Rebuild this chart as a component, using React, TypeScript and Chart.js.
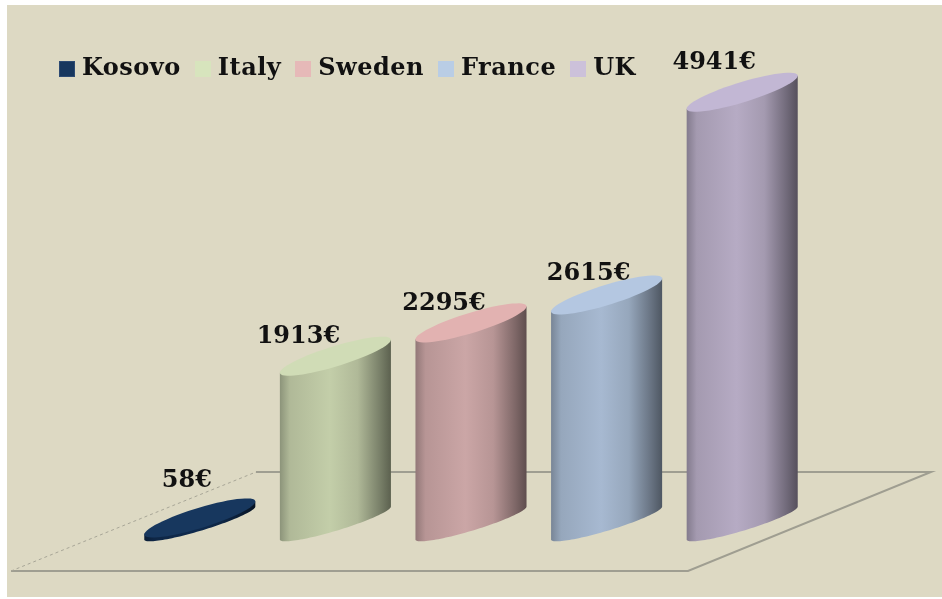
import React, { useEffect, useRef } from "react";
import { Chart, registerables } from "chart.js";

Chart.register(...registerables);

const countries = ["Kosovo", "Italy", "Sweden", "France", "UK"];
const incomes = [58, 1913, 2295, 2615, 4941];
const legendColors = ["#17375e", "#d7e4bd", "#e6b9b8", "#b9cde5", "#ccc1da"];
const bodyColors = ["#0f2a4d", "#c3cea9", "#cba6a6", "#a7b9d1", "#b6abc4"];
const capColors = ["#17375e", "#d0dcb6", "#e2b2b1", "#b4c7e1", "#c2b7d4"];

const LABEL_FONT = "bold 24px 'DejaVu Serif'";
const LEGEND_SPACING = "0.5px";
const labelShift = [[-13, -37], [-37, -19], [-27, -19], [-18, -21], [-28, -29]];

const rgb = (hex: string) => [1, 3, 5].map((i) => parseInt(hex.slice(i, i + 2), 16));
const shade = (hex: string, f: number) => `rgb(${rgb(hex).map((v) => Math.round(v * f)).join(",")})`;

const swatch = (color: string, border: string) => {
  const c = document.createElement("canvas");
  c.width = 16;
  c.height = 16;
  const x = c.getContext("2d")!;
  x.fillStyle = border;
  x.fillRect(0, 0, 16, 16);
  x.fillStyle = color;
  x.fillRect(1, 1, 14, 14);
  return c;
};

const ellipsePoint = (cx: number, cy: number, rx: number, rise: number, b: number, t: number) => [
  cx + rx * Math.cos(t),
  cy - rise * Math.cos(t) - b * Math.sin(t),
];

const tracePart = (ctx: any, cx: number, cy: number, rx: number, rise: number, b: number, from: number, to: number, move: boolean) => {
  const steps = 60;
  for (let i = 0; i <= steps; i++) {
    const [px, py] = ellipsePoint(cx, cy, rx, rise, b, from + ((to - from) * i) / steps);
    if (i === 0 && move) ctx.moveTo(px, py);
    else ctx.lineTo(px, py);
  }
};

const RISE = 16.5;
const TOP_B = 10.5;
const BASE_B = 8;

const scene = {
  id: "scene",
  beforeLayout(chart: any) {
    chart.ctx.letterSpacing = LEGEND_SPACING;
  },
  afterLayout(chart: any) {
    const l = chart.legend;
    l.left = 45;
    l.right = 942;
    l.top = 38;
    l.bottom = 106;
  },
  beforeDraw(chart: any) {
    const { ctx, width, height } = chart;
    ctx.letterSpacing = LEGEND_SPACING;
    ctx.fillStyle = "#ffffff";
    ctx.fillRect(0, 0, width, height);
    ctx.fillStyle = "#ddd9c3";
    ctx.fillRect(7, 5, width - 7, height - 7);
  },
  beforeDatasetsDraw(chart: any) {
    const { ctx, chartArea } = chart;
    const base = chartArea.bottom;
    const backY = base - 51;
    const frontY = base + 48;
    ctx.save();
    ctx.strokeStyle = "#9f9e91";
    ctx.lineWidth = 2;
    ctx.beginPath();
    ctx.moveTo(256, backY);
    ctx.lineTo(931, backY);
    ctx.lineTo(688, frontY);
    ctx.lineTo(11, frontY);
    ctx.stroke();
    ctx.strokeStyle = "#a8a697";
    ctx.lineWidth = 1;
    ctx.setLineDash([3, 3]);
    ctx.beginPath();
    ctx.moveTo(11, frontY);
    ctx.lineTo(256, backY);
    ctx.stroke();
    ctx.restore();
  },
  beforeDatasetDraw(chart: any, args: any) {
    const { ctx } = chart;
    const i = args.index;
    const bar = chart.getDatasetMeta(i).data[0];
    const cx = bar.x;
    const rx = bar.width / 2;
    const yTop = bar.y;
    const yBase = bar.base;
    const col = bodyColors[i];
    const g = ctx.createLinearGradient(cx - rx, 0, cx + rx, 0);
    [[0, 0.72], [0.09, 0.9], [0.45, 1], [0.7, 0.9], [0.9, 0.62], [1, 0.47]].forEach(([p, f]) =>
      g.addColorStop(p, shade(col, f))
    );
    ctx.save();
    ctx.fillStyle = g;
    ctx.beginPath();
    tracePart(ctx, cx, yBase, rx, RISE, BASE_B, Math.PI, 2 * Math.PI, true);
    tracePart(ctx, cx, yTop, rx, RISE, 0, 2 * Math.PI, Math.PI, false);
    ctx.closePath();
    ctx.fill();
    ctx.fillStyle = capColors[i];
    ctx.beginPath();
    tracePart(ctx, cx, yTop, rx, RISE, TOP_B, 0, 2 * Math.PI, true);
    ctx.closePath();
    ctx.fill();
    ctx.restore();
    return false;
  },
  afterDatasetsDraw(chart: any) {
    const { ctx } = chart;
    ctx.save();
    ctx.letterSpacing = "0px";
    ctx.font = LABEL_FONT;
    ctx.fillStyle = "#111111";
    ctx.textAlign = "center";
    ctx.textBaseline = "middle";
    incomes.forEach((v, i) => {
      const bar = chart.getDatasetMeta(i).data[0];
      ctx.fillText(`${v}€`, bar.x + labelShift[i][0], bar.y + labelShift[i][1]);
    });
    ctx.restore();
  },
};

export default function App() {
  const ref = useRef<HTMLCanvasElement | null>(null);
  useEffect(() => {
    document.body.style.margin = "0";
    const chart = new Chart(ref.current!, {
      type: "bar",
      data: {
        labels: [""],
        datasets: countries.map((name, i) => ({
          label: name,
          data: [incomes[i]],
          backgroundColor: legendColors[i],
          categoryPercentage: 1,
          barPercentage: 0.819,
        })),
      },
      options: {
        responsive: false,
        animation: false,
        events: [],
        layout: { padding: { left: 132, right: 132, top: 21, bottom: 76 } },
        scales: {
          x: { display: false },
          y: { display: false, min: 0, max: 5150 },
        },
        plugins: {
          tooltip: { enabled: false },
          title: { display: false },
          legend: {
            display: true,
            position: "top",
            align: "start",
            labels: {
              usePointStyle: true,
              pointStyleWidth: 6,
              padding: 19,
              color: "#111111",
              font: { family: "'DejaVu Serif'", size: 24, weight: "bold" },
              generateLabels: () =>
                countries.map((name, i) => ({
                  text: name,
                  fontColor: "#111111",
                  fillStyle: legendColors[i],
                  strokeStyle: legendColors[i],
                  lineWidth: 0,
                  hidden: false,
                  datasetIndex: i,
                  pointStyle: swatch(legendColors[i], i === 0 ? "#2c4a72" : legendColors[i]),
                })),
            },
          },
        },
      } as any,
      plugins: [scene],
    } as any);
    return () => chart.destroy();
  }, []);
  return (
    <canvas
      ref={ref}
      width={942}
      height={599}
      style={{ position: "fixed", left: 0, top: 0, width: 942, height: 599, filter: "blur(0.6px)" }}
    />
  );
}
